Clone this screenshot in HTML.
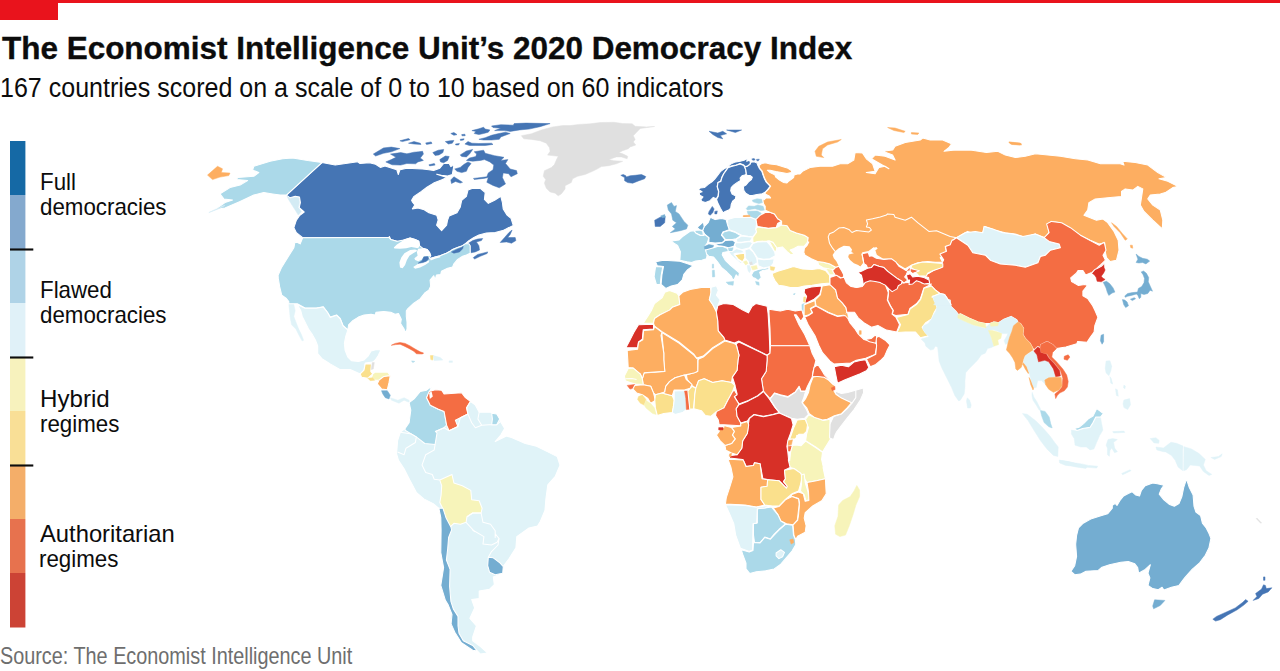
<!DOCTYPE html>
<html><head><meta charset="utf-8"><title>Democracy Index 2020</title>
<style>
html,body{margin:0;padding:0;background:#fff;}
body{width:1280px;height:671px;position:relative;overflow:hidden;font-family:"Liberation Sans",sans-serif;}
.t{position:absolute;white-space:nowrap;transform-origin:0 0;line-height:1;}
#title{left:2px;top:32px;font-size:32px;font-weight:bold;color:#0c0c0c;transform:scaleX(0.983);-webkit-text-stroke:0.35px #0c0c0c;}
#sub{left:0px;top:75px;font-size:27px;color:#0c0c0c;transform:scaleX(0.927);}
#src{left:0px;top:644px;font-size:24px;color:#6e6e6e;transform:scaleX(0.826);}
.lg{font-size:24px;color:#0c0c0c;transform:scaleX(0.93);}
svg{position:absolute;left:0;top:0;}
</style></head><body>
<svg width="1280" height="671" viewBox="0 0 1280 671">
<rect x="0" y="0" width="1280" height="3" fill="#e9131c"/>
<rect x="0" y="0" width="58" height="20" fill="#e9131c"/>
<g>
<rect x="10" y="141" width="15.4" height="54" fill="#1569a5"/>
<rect x="10" y="195" width="15.4" height="54" fill="#84a9ce"/>
<rect x="10" y="249" width="15.4" height="54" fill="#afd3e7"/>
<rect x="10" y="303" width="15.4" height="54" fill="#e0f1f8"/>
<rect x="10" y="357" width="15.4" height="54" fill="#f7f2bd"/>
<rect x="10" y="411" width="15.4" height="54" fill="#f9df96"/>
<rect x="10" y="465" width="15.4" height="54" fill="#f4ae69"/>
<rect x="10" y="519" width="15.4" height="54" fill="#e7724e"/>
<rect x="10" y="573" width="15.4" height="54.5" fill="#cc4335"/>



</g>
<rect x="10" y="248.45" width="23.3" height="2.1" fill="#0d0d0d"/>
<rect x="10" y="356.45" width="23.3" height="2.1" fill="#0d0d0d"/>
<rect x="10" y="464.45" width="23.3" height="2.1" fill="#0d0d0d"/>
<g stroke="#fff" stroke-width="1.05" stroke-linejoin="round">
<polygon points="321.9,162.6 335.2,165.1 357.7,161.8 360.0,163.5 369.4,162.7 375.6,164.3 380.3,167.4 385.0,165.9 396.8,169.8 398.3,174.5 399.9,169.8 406.9,168.2 422.6,169.0 428.9,169.8 433.6,170.6 439.8,168.2 443.7,163.5 449.2,163.5 450.8,166.6 453.9,165.1 453.1,169.8 452.3,174.5 447.6,176.0 441.4,175.3 436.7,174.2 446.9,177.6 441.4,179.9 433.6,183.1 427.3,187.0 421.0,191.7 414.0,196.4 411.6,200.3 412.4,201.9 414.8,205.0 412.4,208.9 417.9,208.1 424.2,209.7 428.9,212.8 436.7,215.2 438.2,220.0 436.6,225.2 441.6,230.7 446.6,225.2 447.6,220.0 449.2,215.9 457.0,212.8 460.2,207.3 461.7,200.3 466.4,196.4 468.0,190.1 472.7,188.2 480.5,188.6 485.2,192.5 484.4,199.5 488.3,203.4 494.6,200.3 500.8,196.4 502.4,202.6 503.2,208.9 507.1,215.2 511.0,218.3 513.3,225.6 507.7,228.1 502.7,230.6 495.2,232.5 486.4,233.1 478.9,235.0 473.9,237.5 468.9,240.6 465.1,243.8 462.6,245.7 457.6,247.5 452.6,249.4 450.1,251.3 446.4,253.2 440.1,255.7 435.1,256.9 430.1,258.8 428.8,258.8 427.6,256.5 430.7,255.7 429.5,252.5 427.0,249.4 422.6,248.2 418.2,248.8 419.5,245.7 418.8,241.3 415.1,239.4 410.1,238.1 403.8,240.0 400.0,242.5 396.9,241.3 390.7,239.4 389.4,236.5 388.8,237.5 370.0,237.5 302.7,237.7 296.4,232.7 293.9,227.7 296.4,220.2 299.5,215.7 304.2,212.0 299.2,207.6 300.4,202.6 299.5,197.0 295.2,196.3 290.1,197.8 286.4,195.1" fill="#4575b4"/>
<polygon points="467.7,243.8 472.7,240.6 477.7,239.0 482.7,238.5 481.4,240.6 476.4,241.9 478.9,245.7 479.5,250.0 475.2,251.9 470.8,252.8 470.2,245.7" fill="#4575b4" stroke="#4575b4" stroke-width="0.5"/>
<polygon points="473.3,257.6 477.7,254.4 482.7,253.2 487.7,251.9 487.1,253.5 480.2,256.3 474.5,259.1" fill="#4575b4" stroke="#4575b4" stroke-width="0.5"/>
<polygon points="500.2,242.5 504.6,237.5 509.0,232.5 512.1,230.0 510.2,234.4 507.7,237.5 515.2,237.5 515.9,240.6 511.5,243.2 506.5,241.9" fill="#4575b4" stroke="#4575b4" stroke-width="0.5"/>
<polygon points="373.3,154.1 383.5,147.9 391.3,147.1 399.9,148.6 391.3,151.8 383.5,153.3 375.6,156.0" fill="#4575b4" stroke="#4575b4" stroke-width="0.5"/>
<polygon points="385.8,161.9 391.3,159.6 396.0,157.3 390.5,154.1 400.7,152.6 406.9,153.8 414.0,152.2 418.7,151.8 422.6,151.3 423.4,154.1 420.3,158.0 423.4,160.4 417.9,161.9 415.6,163.8 406.9,163.5 400.7,165.1 392.1,164.8" fill="#4575b4" stroke="#4575b4" stroke-width="0.5"/>
<polygon points="399.9,140.8 408.5,138.5 410.1,139.7 402.3,141.6" fill="#4575b4" stroke="#4575b4" stroke-width="0.5"/>
<polygon points="408.5,143.2 414.0,141.6 420.3,143.2 421.0,144.4 414.0,144.0" fill="#4575b4" stroke="#4575b4" stroke-width="0.5"/>
<polygon points="425.7,142.9 431.2,141.9 432.0,143.5 426.5,144.4" fill="#4575b4" stroke="#4575b4" stroke-width="0.5"/>
<polygon points="432.8,152.6 438.2,150.2 443.7,149.4 442.9,152.6 439.0,154.9 435.1,155.4" fill="#4575b4" stroke="#4575b4" stroke-width="0.5"/>
<polygon points="439.8,159.6 445.3,156.0 449.2,156.5 447.6,160.4 443.7,162.7 440.6,161.9" fill="#4575b4" stroke="#4575b4" stroke-width="0.5"/>
<polygon points="445.3,141.6 450.0,140.8 453.9,140.4 452.3,143.2 448.4,144.0" fill="#4575b4" stroke="#4575b4" stroke-width="0.5"/>
<polygon points="455.5,144.0 459.4,143.5 458.6,145.0 455.8,145.0" fill="#4575b4" stroke="#4575b4" stroke-width="0.5"/>
<polygon points="450.8,133.5 453.9,132.5 457.0,134.6 453.9,135.3" fill="#4575b4" stroke="#4575b4" stroke-width="0.5"/>
<polygon points="461.7,134.6 464.9,134.2 465.2,135.7 462.0,135.8" fill="#4575b4" stroke="#4575b4" stroke-width="0.5"/>
<polygon points="460.2,139.3 464.1,138.8 463.6,140.0 460.5,140.4" fill="#4575b4" stroke="#4575b4" stroke-width="0.5"/>
<polygon points="464.9,144.0 468.0,141.6 471.9,143.2 478.9,143.5 491.5,143.2 493.0,144.4 485.2,145.5 475.8,145.5 469.5,145.5" fill="#4575b4" stroke="#4575b4" stroke-width="0.5"/>
<polygon points="471.9,130.6 478.9,128.8 483.6,127.2 485.2,129.1 489.9,129.9 488.3,132.2 483.6,133.5 478.9,134.6 474.2,133.5 475.8,131.4" fill="#4575b4" stroke="#4575b4" stroke-width="0.5"/>
<polygon points="478.9,139.3 485.2,137.7 491.5,135.3 497.7,133.8 505.5,132.2 510.2,133.5 500.8,136.9 499.3,139.3 491.5,140.0 483.6,140.0" fill="#4575b4" stroke="#4575b4" stroke-width="0.5"/>
<polygon points="491.5,126.0 500.8,124.7 513.4,125.2 514.1,123.6 525.9,123.1 550.1,123.6 540.0,126.7 529.0,129.1 519.6,129.9 510.2,131.4 504.0,130.6 494.6,130.6 500.8,128.3 493.0,127.5" fill="#4575b4" stroke="#4575b4" stroke-width="0.5"/>
<polygon points="460.2,154.9 466.4,151.0 472.7,149.4 469.5,154.1 466.4,156.9 461.7,156.5" fill="#4575b4" stroke="#4575b4" stroke-width="0.5"/>
<polygon points="474.2,151.8 483.6,150.2 485.2,153.3 494.6,155.7 504.0,157.3 500.8,160.4 507.9,159.6 505.5,163.5 510.2,169.0 516.5,170.6 517.3,173.7 511.0,176.8 508.7,173.7 503.2,172.9 502.4,177.6 505.5,183.9 499.3,187.8 493.0,185.4 486.8,182.3 488.3,177.6 483.6,178.4 474.2,179.5 473.5,178.4 486.8,176.8 488.3,172.9 493.0,169.8 493.8,165.1 489.9,161.9 484.4,159.6 480.5,160.4 472.7,161.2 466.4,160.4 469.5,158.0 475.8,156.5 476.6,154.1" fill="#4575b4" stroke="#4575b4" stroke-width="0.5"/>
<polygon points="454.7,169.0 460.2,167.4 464.1,164.3 468.0,161.9 471.1,163.5 468.0,167.4 466.4,171.3 461.7,172.6 457.0,171.3" fill="#4575b4" stroke="#4575b4" stroke-width="0.5"/>
<polygon points="450.8,179.9 453.9,176.8 457.8,179.2 462.5,182.3 460.2,183.1 455.5,181.5 451.5,183.5" fill="#4575b4" stroke="#4575b4" stroke-width="0.5"/>
<polygon points="428.9,164.8 434.3,163.5 435.1,165.1 429.6,165.9" fill="#4575b4" stroke="#4575b4" stroke-width="0.5"/>
<polygon points="321.9,162.6 307.7,160.6 292.6,158.1 282.6,158.8 270.1,161.3 253.8,166.3 252.6,170.1 258.8,172.6 253.8,176.3 237.6,177.6 236.3,179.6 247.6,180.6 240.1,185.1 230.0,187.6 220.0,193.9 223.8,198.9 232.5,200.1 225.0,202.6 215.0,209.6 225.0,208.1 240.1,201.4 253.8,195.1 263.8,192.6 272.6,193.9 280.1,195.1 286.4,195.1" fill="#abd9e9"/>
<polygon points="287.0,196.1 290.1,198.6 295.2,197.3 298.7,197.8 299.4,202.6 298.2,207.6 301.4,211.6 298.3,215.1 295.2,210.1 292.0,205.1 288.9,200.1" fill="#d3ebf4" stroke="#d3ebf4" stroke-width="0.5"/>
<polygon points="207.5,175.1 217.5,166.3 222.5,168.8 221.3,172.6 230.0,173.1 228.8,175.6 220.0,177.1 212.5,179.6" fill="#fdae61" stroke="#fdae61" stroke-width="0.5"/>
<polygon points="302.7,237.7 370.0,237.5 388.8,237.5 390.7,239.4 396.9,241.3 403.8,240.0 410.1,238.1 415.1,239.4 418.8,241.3 419.5,245.7 422.6,248.2 427.0,249.4 429.5,252.5 430.7,255.7 428.8,258.8 435.1,256.9 440.1,255.7 446.4,253.2 450.1,251.3 452.6,249.4 457.6,247.5 462.6,245.7 465.1,243.8 468.9,243.8 470.2,245.7 470.2,253.2 466.4,255.0 462.6,256.3 457.6,259.4 453.9,263.8 452.6,266.9 447.6,268.2 441.4,271.3 440.7,274.5 436.4,275.1 435.1,280.1 433.8,275.7 430.1,280.1 430.7,286.3 428.8,290.1 425.1,292.6 420.1,298.9 413.8,303.2 407.6,309.0 406.3,310.8 406.3,316.4 407.0,322.0 407.0,329.1 405.5,332.6 404.1,329.1 400.6,323.4 401.3,319.2 398.5,313.6 395.0,314.3 390.8,312.2 383.8,311.5 376.0,312.2 375.3,315.0 371.1,314.3 364.1,315.0 358.4,317.1 352.8,320.6 348.6,324.8 347.9,329.8 343.0,325.5 340.2,318.5 336.6,315.0 330.3,317.1 327.5,312.2 323.3,306.8 316.3,308.0 305.0,308.0 297.3,303.8 288.8,303.8 288.8,301.6 286.0,298.1 281.8,295.3 279.7,286.9 278.3,278.4 278.1,275.2 281.4,267.7 287.6,257.7 293.9,247.7 295.1,241.4 300.2,243.9" fill="#abd9e9"/>
<polygon points="393.8,247.5 396.9,244.4 400.0,242.5 403.8,240.0 410.1,238.1 415.1,239.4 418.8,241.3 419.5,245.7 418.2,248.2 411.3,246.9 406.3,248.2 400.0,248.8 394.4,248.5" fill="#fff" stroke="none"/>
<polygon points="400.0,267.6 399.4,262.6 401.3,257.6 404.4,253.2 410.1,250.0 415.1,249.4 417.6,250.7 413.2,253.2 409.4,255.7 406.9,260.1 405.1,265.1 402.6,268.2" fill="#fff" stroke="none"/>
<polygon points="418.2,248.8 422.6,248.2 427.0,249.4 429.5,252.5 430.7,255.7 427.6,256.3 423.8,256.3 422.0,259.4 418.2,261.3 415.1,260.1 414.4,258.2 417.6,255.7 416.9,251.9" fill="#fff" stroke="none"/>
<polygon points="413.2,266.9 418.2,263.8 422.6,262.8 426.3,261.6 429.5,260.1 428.8,262.6 425.1,265.1 420.1,267.6 415.1,268.8" fill="#fff" stroke="none"/>
<polygon points="430.1,258.8 435.1,256.9 440.1,255.7 440.4,257.3 435.1,258.8 430.7,260.6" fill="#fff" stroke="none"/>
<polygon points="418.2,263.2 422.0,260.7 423.8,256.9 427.6,256.5 428.8,258.8 426.3,261.3 422.6,262.6" fill="#4575b4" stroke="#4575b4" stroke-width="0.5"/>
<polygon points="451.4,251.9 456.4,249.4 461.4,247.5 463.3,246.3 462.6,248.8 459.5,251.9 453.9,253.2" fill="#4575b4" stroke="#4575b4" stroke-width="0.5"/>
<polygon points="288.8,304.5 293.8,304.5 295.2,310.8 293.8,316.4 295.9,322.0 298.7,329.1 301.5,334.7 303.6,340.3 302.2,341.0 299.4,336.1 295.9,329.1 291.6,324.8 290.2,317.8 289.5,310.8" fill="#e0f3f8" stroke="#e0f3f8" stroke-width="0.5"/>
<polygon points="297.3,304.5 305.0,308.3 316.3,308.3 323.3,307.1 327.5,312.5 330.3,317.4 336.6,315.3 340.2,318.8 343.0,325.8 347.9,330.0 345.8,336.1 344.4,343.1 345.1,350.2 347.9,357.2 351.4,360.7 358.4,361.4 364.1,360.0 368.3,355.8 371.1,350.9 376.7,349.5 380.9,349.9 378.1,355.8 375.3,360.0 372.8,362.1 365.2,363.1 364.0,370.1 360.2,373.9 350.2,369.6 340.2,369.6 330.2,363.9 327.5,362.1 321.9,358.6 317.7,353.7 317.7,345.9 315.5,340.3 312.0,334.0 308.5,329.1 305.0,322.0 302.2,316.4 300.8,310.8" fill="#e0f3f8"/>
<polygon points="365.2,363.9 371.5,363.9 370.8,371.4 372.8,373.9 367.8,378.2 361.5,377.2 360.2,373.9 364.0,370.1" fill="#fae08c"/>
<polygon points="372.3,362.6 374.3,362.6 373.3,368.9 371.3,369.6" fill="#e0e0e0" stroke="#e0e0e0" stroke-width="0.5"/>
<polygon points="372.8,373.9 375.3,372.1 387.8,372.1 390.3,375.7 384.0,376.4 379.0,380.2 375.3,380.2 371.5,377.7" fill="#f7f4ba"/>
<polygon points="367.8,378.2 372.8,377.7 374.8,380.2 370.3,380.7" fill="#fae08c" stroke="#fae08c" stroke-width="0.5"/>
<polygon points="379.0,380.2 384.0,376.4 390.3,375.7 389.0,382.7 387.3,389.7 381.5,388.9 377.3,383.9" fill="#fdae61"/>
<polygon points="381.5,390.7 387.3,390.7 390.3,395.2 389.0,398.9 385.3,397.7 382.8,393.9" fill="#74add1" stroke="#74add1" stroke-width="0.5"/>
<polygon points="390.3,397.7 397.8,400.2 404.1,397.7 409.1,400.2 409.8,402.7 404.1,400.2 399.0,403.2 391.5,400.2" fill="#e0f3f8" stroke="#e0f3f8" stroke-width="0.5"/>
<polygon points="391.3,345.3 395.1,343.4 400.1,342.5 405.1,343.4 410.1,345.9 415.1,349.0 420.1,351.8 423.6,353.0 422.6,354.0 416.4,353.8 413.9,351.3 408.9,348.4 403.9,345.9 400.1,344.3 395.7,344.6" fill="#f46d43" stroke="#f46d43" stroke-width="0.5"/>
<polygon points="430.3,355.6 433.4,355.6 432.8,360.1 430.8,359.6" fill="#fae08c" stroke="#fae08c" stroke-width="0.5"/>
<polygon points="433.4,355.6 440.4,357.6 442.9,360.1 434.1,360.6" fill="#e0f3f8" stroke="#e0f3f8" stroke-width="0.5"/>
<polygon points="411.6,360.9 414.8,361.4 412.8,362.6" fill="#abd9e9" stroke="#abd9e9" stroke-width="0.5"/>
<polygon points="449.1,360.9 452.4,360.9 452.4,362.4 449.1,362.4" fill="#e0f3f8" stroke="#e0f3f8" stroke-width="0.5"/>
<polygon points="426.6,390.2 431.6,386.4 429.1,391.4 435.4,389.7 441.6,390.2 444.1,393.9 461.6,392.7 465.4,397.7 470.4,401.4 475.4,405.2 479.2,412.2 490.4,412.2 496.7,414.0 499.7,419.0 500.5,421.5 504.6,428.5 500.8,435.0 495.2,441.6 506.5,436.0 512.1,437.8 525.3,443.5 536.5,446.3 547.8,451.9 557.2,456.6 560.0,465.1 555.3,476.3 547.8,484.8 545.9,498.9 545.0,510.1 540.3,521.4 537.5,526.1 529.0,528.0 519.6,534.6 516.8,536.6 515.9,547.8 509.3,558.2 503.7,565.7 502.7,573.2 493.3,576.9 494.3,584.5 489.6,589.2 479.2,591.0 479.2,598.5 471.7,599.5 474.6,607.9 469.9,618.3 476.4,625.8 472.7,637.0 472.7,640.8 480.2,646.4 487.7,653.0 480.2,653.9 472.7,646.4 461.4,640.8 455.8,633.3 452.0,625.8 450.1,618.3 452.0,608.9 449.2,602.3 445.4,600.4 442.6,586.3 443.6,567.6 440.8,552.5 441.1,530.0 440.8,517.7 438.9,508.3 433.2,503.6 423.8,498.9 416.3,492.3 409.8,480.1 404.1,468.8 398.5,460.4 396.6,453.8 397.6,440.7 400.4,432.2 405.1,428.5 409.1,422.7 410.8,410.2 409.1,402.7 414.1,398.9 420.3,391.4" fill="#e0f3f8"/>
<polygon points="426.6,390.2 431.6,386.4 429.1,392.7 426.6,397.7 430.3,405.2 437.9,409.0 444.1,411.5 446.6,425.2 444.1,427.7 435.4,431.5 437.0,433.1 435.1,444.4 424.8,443.5 416.3,436.9 411.6,434.1 405.1,430.3 405.1,428.5 409.1,422.7 410.8,410.2 409.1,402.7 414.1,398.9 420.3,391.4" fill="#abd9e9"/>
<polygon points="426.6,397.7 429.1,391.4 435.4,389.7 441.6,390.2 444.1,393.9 461.6,392.7 465.4,397.7 470.4,401.4 466.6,407.7 467.9,414.0 460.4,417.7 455.4,420.2 457.9,426.5 449.1,430.7 446.6,425.2 444.1,411.5 437.9,409.0 430.3,405.2" fill="#f46d43"/>
<polygon points="429.1,392.7 431.6,391.4 432.8,396.4 429.8,398.9" fill="#fff" stroke="none"/>
<polyline points="470.4,401.4 466.6,407.7 467.9,414.0 471.7,422.7 475.4,427.7 481.7,425.2 489.2,424.7 496.7,424.7 500.5,421.5" fill="none"/>
<polyline points="479.2,412.2 477.9,419.0 481.7,425.2" fill="none"/>
<polygon points="491.7,413.2 496.7,414.0 499.7,419.0 496.7,424.7 491.7,424.7 492.4,419.0" fill="#abd9e9"/>
<polyline points="435.4,431.5 444.1,427.7 449.1,430.7 457.9,426.5 460.4,417.7 467.9,414.0" fill="none"/>
<polyline points="397.6,451.9 404.1,454.7 406.0,448.2 415.4,442.5 416.3,436.9 411.6,434.1 400.4,432.2" fill="none"/>
<polyline points="435.1,444.4 434.2,450.0 425.7,454.7 422.0,465.1 425.7,472.6 432.3,474.5 434.2,479.2 439.8,480.1" fill="none"/>
<polygon points="439.8,480.1 452.0,474.5 453.9,482.9 462.3,485.7 470.8,490.4 471.7,499.8 479.2,500.8 482.1,508.3 481.1,513.0 472.7,513.0 467.0,516.7 466.1,522.3 460.5,524.2 453.9,523.3 450.1,527.0 445.4,517.7 442.6,508.3 439.8,502.6 441.1,495.1 441.7,485.7" fill="#f7f4ba"/>
<polygon points="438.9,508.3 443.0,508.3 446.0,517.7 450.9,527.0 451.6,530.0 448.6,537.5 447.7,548.8 446.4,560.0 450.1,569.4 449.6,586.3 450.9,601.4 453.3,608.9 458.0,616.4 458.0,625.8 459.0,633.3 463.3,640.8 472.7,645.5 477.4,651.1 472.7,650.2 461.4,642.7 454.8,632.3 451.1,623.9 452.0,614.5 448.3,605.1 445.4,600.4 440.8,585.4 443.6,567.6 440.8,552.5 441.1,530.0 440.8,517.7" fill="#74add1"/>
<polyline points="467.0,516.7 472.7,513.0 481.1,513.0 483.0,522.3 490.5,524.2 495.2,530.8 495.2,537.4 495.2,533.8 499.0,538.5 497.1,542.2 491.5,545.0 483.0,544.1 483.9,536.6 472.7,530.0 474.6,531.7 466.1,522.3" fill="none"/>
<polyline points="499.0,538.5 498.0,545.0 491.5,551.6 488.3,557.2" fill="none"/>
<polygon points="488.3,557.2 493.3,557.8 499.9,562.9 503.3,566.6 502.7,573.2 495.2,574.7 489.6,572.3 487.7,565.7" fill="#74add1"/>
<polygon points="218.2,208.2 221.9,206.1 225.0,205.4 220.0,208.2 213.8,210.7 208.8,212.6 213.2,210.4" fill="#d3ebf4" stroke="#d3ebf4" stroke-width="0.5"/>
<polygon points="709.1,131.3 717.8,133.0 722.8,131.3 726.6,133.8 720.3,135.5 722.8,138.8 717.8,137.5 712.8,134.5" fill="#4575b4" stroke="#4575b4" stroke-width="0.5"/>
<polygon points="726.6,130.0 741.6,130.0 735.4,132.5" fill="#4575b4" stroke="#4575b4" stroke-width="0.5"/>
<polygon points="709.1,211.4 712.3,206.4 714.1,208.9 712.8,212.6 710.3,215.2 708.3,213.9" fill="#4575b4" stroke="#4575b4" stroke-width="0.5"/>
<polygon points="714.8,211.4 717.3,210.9 716.8,213.9 714.8,213.9" fill="#4575b4" stroke="#4575b4" stroke-width="0.5"/>
<polygon points="654.7,220.2 660.2,217.2 665.2,216.4 664.7,222.7 660.2,226.4 655.2,226.4" fill="#4575b4" stroke="#4575b4" stroke-width="0.5"/>
<polygon points="667.3,205.1 671.5,202.6 674.0,206.4 676.5,205.6 675.3,211.4 679.0,213.9 684.0,221.4 687.8,225.2 686.5,228.9 680.3,230.7 670.3,232.7 675.3,228.9 672.3,226.4 676.5,222.7 672.8,220.2 671.5,213.9 668.3,210.1" fill="#74add1" stroke="#74add1" stroke-width="0.5"/>
<polygon points="660.7,215.9 664.7,214.6 665.2,217.2 662.2,217.7" fill="#74add1" stroke="#74add1" stroke-width="0.5"/>
<polygon points="746.2,208.7 748.5,205.9 754.2,206.3 757.9,204.9 763.1,206.3 764.5,210.1 760.8,210.6 755.1,208.7 751.4,209.2 747.6,210.1" fill="#abd9e9" stroke="#abd9e9" stroke-width="0.5"/>
<polygon points="747.2,211.3 757.4,211.0 761.3,213.3 758.9,217.2 755.0,218.5 750.3,216.4 748.0,214.1" fill="#abd9e9" stroke="#abd9e9" stroke-width="0.5"/>
<polygon points="743.3,215.6 749.5,215.2 750.3,216.9 743.3,217.2" fill="#fdae61" stroke="#fdae61" stroke-width="0.5"/>
<polygon points="755.8,219.6 759.7,215.6 765.2,212.5 769.9,212.2 774.6,214.1 777.7,218.8 781.6,221.1 777.7,223.5 776.2,227.4 768.3,228.2 757.4,226.6 756.6,223.5" fill="#f46d43"/>
<polygon points="727.6,219.6 735.5,217.2 743.3,217.5 750.3,217.2 755.8,219.6 756.6,223.5 755.8,229.0 756.6,232.1 752.7,236.8 748.0,236.3 741.7,235.2 735.5,232.1 729.2,229.7 727.6,225.0" fill="#e0f3f8"/>
<polygon points="704.2,226.6 708.1,222.7 710.4,217.2 715.1,219.6 721.4,218.5 726.1,219.6 727.6,225.0 729.2,229.7 722.9,232.1 721.4,235.2 725.3,239.9 722.2,242.6 715.1,243.0 708.9,242.3 708.9,237.6 704.9,234.4 702.6,230.5" fill="#74add1"/>
<polygon points="697.1,227.4 703.4,221.9 704.2,226.6 702.6,230.5 699.5,229.7" fill="#74add1"/>
<polygon points="694.0,230.5 699.5,230.0 702.6,231.0 703.4,235.2 700.3,235.2 695.6,232.9" fill="#abd9e9"/>
<polygon points="671.3,241.0 679.1,239.9 682.3,236.8 690.1,231.3 694.0,230.8 695.9,233.2 700.3,235.5 703.4,235.5 704.9,234.7 708.9,237.9 707.3,243.0 704.9,246.2 705.7,250.1 707.3,254.0 706.5,258.7 701.8,260.3 695.6,261.0 691.6,262.6 686.9,261.8 679.9,260.3 680.4,251.6 677.6,245.4 673.6,243.0" fill="#abd9e9"/>
<polygon points="712.3,264.2 713.6,264.2 713.6,268.1 712.3,268.1" fill="#abd9e9" stroke="#abd9e9" stroke-width="0.5"/>
<polygon points="655.6,261.8 663.5,260.3 679.9,261.3 686.9,263.4 693.2,265.7 687.7,269.6 683.8,274.3 682.3,279.8 677.6,284.5 671.3,286.1 665.8,288.4 661.1,284.5 661.9,275.1 663.5,266.5 657.2,265.7" fill="#74add1"/>
<polygon points="655.6,266.5 662.7,267.0 661.1,275.9 660.3,284.5 656.4,284.5 654.1,276.7" fill="#abd9e9"/>
<polygon points="704.2,246.6 708.9,244.6 713.6,245.4 712.8,247.7 707.3,249.8 704.5,248.8" fill="#74add1" stroke="#74add1" stroke-width="0.5"/>
<polygon points="715.1,244.1 722.2,243.0 725.3,240.4 732.3,239.9 735.5,242.3 733.9,246.2 728.4,247.7 722.9,246.2 718.2,245.7" fill="#74add1"/>
<polygon points="721.7,234.7 723.7,232.1 729.2,230.5 735.5,232.6 740.9,235.7 736.2,238.8 732.3,239.4 725.3,239.4" fill="#abd9e9"/>
<polygon points="736.2,239.4 741.4,236.0 748.0,236.8 752.7,237.2 750.3,241.0 741.7,242.3 737.0,241.9" fill="#e0f3f8"/>
<polygon points="735.8,242.6 741.7,242.6 750.3,241.5 752.7,243.0 749.5,247.7 741.7,249.8 736.2,247.7 734.7,245.4" fill="#e0f3f8"/>
<polygon points="727.6,248.5 733.1,247.7 732.3,250.9 728.4,251.3" fill="#abd9e9" stroke="#abd9e9" stroke-width="0.5"/>
<polygon points="728.4,251.6 732.6,251.2 736.2,248.5 741.7,250.1 744.9,252.4 740.2,253.2 736.2,253.2 733.9,254.0 737.8,259.5 743.3,263.4 740.2,263.4 733.9,257.9 730.8,254.8" fill="#e0f3f8"/>
<polygon points="734.7,254.8 740.2,253.7 744.5,253.2 744.9,257.9 742.5,261.8 738.6,259.5" fill="#fae08c"/>
<polygon points="744.9,250.1 749.5,248.5 753.5,252.4 756.6,257.9 757.4,262.6 752.7,265.7 749.5,264.9 748.0,261.0 745.2,258.2 745.2,253.2" fill="#e0f3f8"/>
<polygon points="743.3,261.8 746.4,260.7 748.0,263.4 745.6,264.9" fill="#f7f4ba" stroke="#f7f4ba" stroke-width="0.5"/>
<polygon points="749.5,262.6 751.9,261.8 752.4,264.5 750.2,264.9" fill="#e0e0e0" stroke="#e0e0e0" stroke-width="0.5"/>
<polygon points="747.2,265.4 749.5,265.4 750.8,269.6 749.5,272.8 748.0,270.4" fill="#e0f3f8" stroke="#e0f3f8" stroke-width="0.5"/>
<polygon points="751.1,266.5 756.6,265.4 757.4,268.9 752.7,270.1" fill="#f7f4ba" stroke="#f7f4ba" stroke-width="0.5"/>
<polygon points="750.3,247.7 753.0,243.5 757.4,241.9 766.8,241.5 771.5,246.9 774.6,251.6 775.4,255.6 769.9,258.7 763.6,259.2 757.4,257.9 753.8,252.4" fill="#e0f3f8"/>
<polygon points="769.1,241.0 773.0,242.3 776.9,247.7 776.2,251.6 774.3,250.9 771.8,246.2" fill="#f7f4ba"/>
<polygon points="757.4,258.7 763.6,259.8 770.2,259.2 774.3,258.7 773.3,263.4 770.7,266.5 763.6,268.1 758.2,265.7 757.7,262.6" fill="#e0f3f8"/>
<polygon points="751.4,275.1 753.5,271.2 758.2,269.6 764.4,268.5 769.1,267.6 768.6,269.6 762.8,270.4 759.7,272.3 761.3,277.5 758.2,280.6 755.0,278.2 752.7,277.5" fill="#abd9e9"/>
<polygon points="755.5,281.4 758.9,282.2 759.2,285.3 756.6,284.5" fill="#abd9e9" stroke="#abd9e9" stroke-width="0.5"/>
<polygon points="770.2,266.5 774.9,267.3 773.8,270.4 770.7,270.1" fill="#fae08c" stroke="#fae08c" stroke-width="0.5"/>
<polygon points="772.2,273.6 777.7,271.2 785.5,268.9 793.4,266.5 802.8,268.9 812.1,269.6 819.2,268.5 825.4,270.4 829.4,275.1 830.1,282.9 821.5,283.7 812.1,285.3 804.3,286.1 798.1,287.6 790.2,287.6 784.0,286.1 778.5,285.3 774.9,280.6 773.0,276.7" fill="#fae08c"/>
<polygon points="756.6,232.1 755.8,229.0 757.4,226.9 768.3,228.5 776.2,227.7 781.6,225.0 787.1,225.8 790.2,230.5 796.5,232.9 804.3,235.2 808.2,237.6 807.4,242.3 804.3,246.2 798.1,246.2 794.1,248.5 790.2,250.1 794.1,254.0 791.0,254.8 787.1,251.6 782.4,246.9 777.7,247.7 776.2,251.6 776.9,247.7 773.0,242.3 769.1,240.7 766.8,241.0 757.4,241.5 753.0,243.0 752.7,237.6" fill="#f7f4ba"/>
<polygon points="705.7,250.1 713.6,247.7 718.2,246.2 722.9,246.6 727.6,248.5 728.4,251.6 722.9,252.4 722.2,254.8 725.3,260.3 730.8,265.7 735.5,269.6 739.4,272.8 738.6,277.5 736.2,274.8 734.7,278.2 733.1,280.6 731.5,276.7 726.9,272.0 721.4,267.3 717.5,261.8 713.6,257.1 708.9,256.3 706.5,254.0" fill="#abd9e9"/>
<polygon points="712.3,270.4 714.3,270.1 714.8,276.7 712.5,277.0" fill="#abd9e9" stroke="#abd9e9" stroke-width="0.5"/>
<polygon points="726.1,282.2 733.6,281.4 733.1,285.3 728.4,284.5" fill="#abd9e9" stroke="#abd9e9" stroke-width="0.5"/>
<polygon points="793.4,293.9 795.2,293.4 794.1,295.0" fill="#abd9e9" stroke="#abd9e9" stroke-width="0.5"/>
<polygon points="817.6,261.6 823.2,262.3 830.1,264.1 835.7,267.3 835.1,270.1 829.5,269.1 823.2,267.8 818.8,265.1" fill="#f7f4ba"/>
<polygon points="826.9,269.1 831.6,270.1 833.6,274.1 830.1,274.1" fill="#f7f4ba" stroke="#f7f4ba" stroke-width="0.5"/>
<polygon points="832.6,270.7 835.7,267.3 838.8,266.3 841.3,270.1 843.8,275.1 842.6,278.8 838.2,276.3 835.1,275.1" fill="#f46d43"/>
<polygon points="521.3,135.7 531.3,133.8 541.3,130.0 552.6,126.9 562.6,125.6 570.1,125.6 578.9,124.4 590.1,123.8 600.1,122.5 613.9,122.3 622.7,123.5 632.1,123.8 635.2,126.3 646.5,126.9 654.6,126.5 640.2,128.5 636.4,132.5 633.3,135.7 635.2,139.4 633.3,141.9 635.8,145.0 630.2,146.9 628.3,148.8 622.7,150.7 618.9,152.6 622.7,153.8 627.7,156.3 627.1,158.8 621.4,156.9 616.4,156.9 608.9,159.4 613.9,160.7 622.7,161.3 616.4,163.8 608.9,165.7 601.4,166.6 597.6,168.8 592.6,171.3 585.1,174.5 577.6,176.3 572.6,178.8 571.3,182.6 565.1,185.7 565.1,188.9 561.3,193.9 558.2,195.8 555.1,193.2 550.1,192.0 546.3,188.2 544.4,183.2 545.7,179.5 543.2,176.3 544.4,170.7 551.3,167.6 554.4,164.5 556.3,160.1 558.2,156.3 547.6,155.1 550.1,151.3 549.4,147.6 546.3,143.2 540.0,140.7 531.3,139.4 523.8,138.8" fill="#e0e0e0" stroke="#e0e0e0" stroke-width="0.5"/>
<polygon points="620.8,175.3 623.3,174.5 625.8,175.7 626.4,177.0 630.2,175.7 635.2,175.3 641.5,174.5 645.8,176.6 644.6,178.8 639.0,180.7 632.7,183.2 627.7,182.6 624.6,180.7 624.6,177.6" fill="#4575b4" stroke="#4575b4" stroke-width="0.5"/>
<polygon points="698.3,189.4 700.2,188.0 704.4,187.6 708.2,184.3 711.9,181.9 714.7,179.1 717.6,175.4 720.4,171.6 724.1,168.8 726.9,167.4 730.7,164.1 734.5,162.2 740.1,161.3 744.8,159.9 747.6,158.5 746.7,161.3 749.5,160.3 750.4,162.2 750.0,164.1 747.6,166.0 744.8,166.4 743.8,165.0 740.1,163.6 736.3,165.0 731.2,166.0 727.9,167.4 726.0,170.2 723.7,173.5 721.8,177.2 720.8,181.0 718.0,182.4 717.1,186.6 718.5,191.3 718.0,196.0 716.2,198.8 713.3,197.4 710.0,200.7 705.4,202.6 702.1,201.6 700.7,199.8 703.0,196.9 699.7,195.1 699.2,192.7 702.1,191.8" fill="#4575b4"/>
<polygon points="751.8,158.9 754.2,158.5 755.1,159.9 752.8,160.3" fill="#4575b4" stroke="#4575b4" stroke-width="0.5"/>
<polygon points="756.5,159.4 759.3,159.2 758.4,160.8 757.0,160.8" fill="#4575b4" stroke="#4575b4" stroke-width="0.5"/>
<polygon points="718.0,182.4 720.8,181.5 722.0,177.4 723.8,173.7 726.2,170.4 728.1,167.8 731.4,166.4 736.3,165.3 740.1,164.1 743.8,165.5 744.8,167.4 745.7,170.2 746.2,173.9 744.8,174.9 742.0,175.8 740.1,178.2 740.6,180.5 737.3,182.4 733.5,185.2 731.2,187.6 730.7,190.8 732.1,194.1 735.9,196.0 735.4,198.8 732.6,201.2 731.2,204.5 730.7,208.2 728.8,210.1 725.1,211.5 723.2,213.0 720.4,208.2 717.6,202.6 716.6,199.3 718.3,196.2 718.8,191.3 717.4,186.8" fill="#4575b4"/>
<polygon points="744.8,166.9 747.6,166.2 750.1,164.3 750.9,162.2 754.2,161.7 757.0,163.1 757.9,165.5 759.3,168.3 761.7,171.1 763.1,175.4 764.5,179.1 766.4,182.4 770.1,186.2 767.8,189.4 765.0,192.3 762.2,193.7 757.0,194.6 752.3,195.5 749.5,195.5 745.7,193.2 743.8,190.4 743.4,186.6 746.2,184.7 748.5,181.9 751.4,179.6 752.3,177.2 750.0,175.4 747.1,175.4 746.4,173.9 745.9,170.2" fill="#4575b4"/>
<polygon points="752.3,200.2 757.0,198.8 761.7,199.3 762.6,202.6 758.9,203.5 755.1,202.6 752.8,201.6" fill="#abd9e9" stroke="#abd9e9" stroke-width="0.5"/>
<polygon points="758.9,165.5 761.7,163.6 765.4,162.7 770.1,164.1 776.7,164.8 782.3,166.4 788.0,168.3 791.7,170.7 791.3,172.5 787.0,173.5 781.4,172.5 775.8,171.6 770.1,170.2 767.3,170.2 770.1,172.5 774.8,174.9 775.8,177.2 779.5,180.0 783.3,182.4 787.0,182.9 788.9,181.0 791.7,179.1 793.6,177.7 794.1,174.9 797.4,173.9 800.0,173.9 802.5,171.3 810.0,167.6 820.0,166.3 832.5,166.3 840.1,163.8 847.6,163.8 853.8,160.1 855.1,152.6 862.6,153.1 866.3,158.8 872.6,163.8 875.1,171.3 866.3,172.6 875.1,173.8 878.9,167.6 885.1,166.3 888.9,168.8 880.1,163.8 871.4,158.8 875.1,155.1 885.1,156.3 895.1,160.1 892.6,155.1 882.6,151.3 892.6,150.1 895.1,146.3 905.2,142.5 920.2,140.0 922.7,138.0 930.2,140.0 942.7,140.0 951.5,143.8 949.0,147.5 944.0,151.3 955.2,150.1 970.3,150.1 986.5,152.6 997.8,151.3 1005.3,155.1 1015.3,157.6 1025.3,156.3 1035.4,153.8 1047.9,155.1 1060.4,156.3 1075.4,158.8 1087.9,160.1 1100.5,163.8 1120.0,163.8 1120.2,163.8 1124.0,165.1 1122.7,161.3 1135.3,162.6 1147.8,165.1 1157.8,172.6 1166.6,177.6 1159.0,178.8 1167.8,181.3 1177.8,186.4 1172.8,187.6 1165.3,192.6 1160.3,193.9 1150.3,195.1 1147.8,198.9 1152.8,205.1 1160.3,210.1 1162.8,220.2 1162.3,228.9 1152.8,220.2 1144.0,211.4 1140.3,205.1 1141.5,197.6 1142.8,188.9 1137.8,186.4 1132.8,190.1 1125.2,188.9 1121.5,191.4 1121.5,196.4 1110.2,197.6 1095.2,198.9 1088.9,202.6 1087.7,210.1 1083.9,215.2 1090.2,217.7 1096.5,220.2 1102.7,218.9 1107.7,222.7 1114.0,231.4 1118.2,240.2 1119.0,250.2 1116.5,260.2 1110.2,261.5 1106.5,257.7 1105.2,251.5 1104.7,242.7 1099.0,243.9 1090.2,240.2 1080.2,235.2 1070.2,228.9 1060.2,222.7 1051.4,221.4 1047.6,223.9 1048.9,232.7 1045.1,237.7 1035.1,233.9 1025.1,237.2 1015.1,233.9 1005.1,232.7 995.1,230.2 985.0,226.4 982.5,232.7 975.0,233.9 967.5,231.4 965.2,232.7 956.5,237.7 952.7,240.2 950.2,245.2 945.2,246.4 946.5,252.7 940.2,257.7 942.7,262.2 935.2,262.2 927.7,261.5 917.7,262.7 911.4,265.2 905.2,269.0 898.9,265.2 891.4,259.0 882.6,259.0 876.4,255.2 873.9,247.7 868.9,251.5 862.6,252.7 863.8,262.7 860.8,267.0 850.1,265.1 838.8,266.3 835.7,267.3 830.1,264.1 823.2,262.3 817.6,261.6 811.3,258.8 805.0,255.1 803.8,252.6 804.4,248.2 806.9,245.7 808.8,241.9 807.4,242.3 808.2,237.6 804.3,235.2 796.5,232.9 790.2,230.5 787.1,225.8 781.6,225.0 781.6,221.1 777.7,218.8 774.6,214.1 769.9,212.2 765.2,210.2 765.2,206.3 763.6,203.9 762.8,200.0 764.0,199.8 765.9,197.9 770.6,197.9 769.2,196.0 765.0,194.1 765.4,192.3 768.3,189.4 770.6,186.2 766.9,182.4 765.0,179.1 763.6,175.4 762.2,171.1 759.8,168.3" fill="#fdae61"/>
<polygon points="815.0,151.3 818.8,146.3 827.5,142.0 841.3,139.5 837.6,142.0 827.5,145.0 822.5,148.8 821.3,155.1 823.8,157.6 816.3,156.3" fill="#fdae61" stroke="#fdae61" stroke-width="0.5"/>
<polygon points="887.6,127.5 895.1,128.0 905.2,131.3 903.9,132.5 893.9,130.5" fill="#fdae61" stroke="#fdae61" stroke-width="0.5"/>
<polygon points="911.4,132.5 918.9,133.0 917.7,134.5 911.4,134.0" fill="#fdae61" stroke="#fdae61" stroke-width="0.5"/>
<polygon points="1009.1,142.0 1020.3,143.0 1021.6,145.0 1011.6,144.5" fill="#fdae61" stroke="#fdae61" stroke-width="0.5"/>
<polygon points="1008.8,142.0 1021.3,143.8 1020.1,145.0 1010.1,143.8" fill="#fdae61" stroke="#fdae61" stroke-width="0.5"/>
<polygon points="1111.5,222.7 1116.5,226.4 1122.7,233.9 1127.3,238.9 1125.2,240.2 1120.2,232.7 1114.0,226.4" fill="#fdae61" stroke="#fdae61" stroke-width="0.5"/>
<polygon points="1130.3,245.2 1132.3,245.2 1132.8,248.2 1130.8,247.7" fill="#fdae61" stroke="#fdae61" stroke-width="0.5"/>
<polygon points="956.5,237.7 965.2,232.7 975.3,231.4 982.8,232.7 984.0,226.4 992.8,228.9 1002.8,232.7 1012.8,233.9 1022.8,236.4 1035.4,233.9 1044.1,237.7 1049.1,241.4 1059.1,243.9 1060.4,247.7 1050.4,250.2 1045.4,255.2 1040.4,256.5 1037.9,262.7 1025.3,267.2 1015.3,265.2 1000.3,264.0 990.3,260.2 985.3,255.2 972.8,252.7 967.8,245.2 960.2,240.2" fill="#e0f3f8"/>
<polygon points="952.7,240.2 956.5,237.7 960.2,240.2 967.8,245.2 972.8,252.7 985.3,255.2 990.3,260.2 1000.3,264.0 1015.3,265.2 1025.3,267.2 1037.9,262.7 1040.4,256.5 1045.4,255.2 1050.4,250.2 1060.4,247.7 1059.1,243.9 1049.1,241.4 1044.1,237.7 1049.1,232.7 1046.6,223.9 1051.6,221.4 1061.6,222.7 1070.4,227.7 1080.4,235.2 1091.7,241.4 1099.2,245.2 1104.2,242.2 1106.0,250.2 1103.0,255.2 1105.5,260.2 1104.5,261.0 1100.8,264.7 1092.3,272.3 1085.7,275.1 1082.9,270.4 1078.2,270.4 1076.3,273.2 1070.7,277.9 1071.6,281.6 1078.2,285.4 1084.8,284.5 1087.6,285.4 1082.9,291.0 1082.9,295.7 1087.6,298.5 1092.3,305.1 1095.1,310.8 1097.9,317.3 1094.8,325.8 1094.1,332.1 1090.1,337.6 1087.0,342.3 1077.6,341.5 1076.8,343.8 1065.9,346.9 1056.5,348.5 1052.6,344.6 1047.1,341.5 1040.8,344.6 1040.1,347.7 1037.7,346.6 1033.8,350.1 1032.2,346.9 1029.9,343.0 1025.2,338.3 1022.8,334.4 1023.6,328.2 1020.5,323.5 1018.2,322.7 1016.6,319.6 1011.1,316.4 1003.3,319.6 998.6,322.7 993.9,321.9 990.0,323.5 985.3,323.5 978.2,321.9 968.9,318.0 960.3,313.8 958.7,314.9 956.3,311.7 950.9,306.3 950.1,300.0 948.4,300.1 944.6,294.5 939.9,293.5 935.2,289.8 931.5,286.0 929.6,285.1 928.6,277.6 922.1,275.7 929.6,272.9 934.3,270.0 940.8,267.2 941.8,263.5 943.7,259.7 939.9,254.1 946.5,251.3 945.5,246.6 950.2,244.7 952.1,240.0" fill="#f46d43"/>
<polygon points="1064.3,356.3 1068.2,354.8 1069.8,357.1 1067.4,360.3 1064.0,359.2" fill="#f46d43" stroke="#f46d43" stroke-width="0.5"/>
<polygon points="888.3,286.9 893.0,288.5 897.7,284.7 902.9,282.8 908.5,282.4 913.1,282.4 918.3,279.8 922.1,283.2 929.6,284.3 931.5,284.1 923.9,287.9 922.1,293.5 920.2,299.2 916.4,303.8 909.9,308.5 908.0,314.2 895.8,315.5 892.4,314.2 893.3,310.4 890.5,305.7 887.7,300.1 888.6,293.0" fill="#f46d43"/>
<polygon points="923.9,288.3 931.5,286.0 935.2,289.8 939.9,293.5 935.2,295.4 932.4,296.3 935.2,302.0 937.1,307.6 934.3,312.3 931.5,318.9 925.8,322.6 922.1,327.3 924.9,332.0 928.6,335.8 920.2,337.7 915.5,332.0 905.2,332.0 897.1,332.4 899.5,327.3 900.5,324.5 896.2,317.4 908.0,314.6 910.2,308.9 916.8,304.2 920.6,299.5 922.4,293.9" fill="#fae08c"/>
<polygon points="804.7,288.8 811.3,286.9 821.6,286.0 821.0,289.8 819.7,294.5 814.1,299.2 806.6,302.9 804.7,302.9 806.6,296.3 804.1,292.6" fill="#d73027"/>
<polygon points="803.8,296.9 805.6,296.9 805.1,302.2 803.4,301.6" fill="#fae08c" stroke="#fae08c" stroke-width="0.5"/>
<polygon points="801.9,304.5 804.3,303.5 803.8,310.1 802.4,313.8" fill="#abd9e9" stroke="#abd9e9" stroke-width="0.5"/>
<polygon points="822.2,286.0 830.0,284.7 835.7,289.8 837.6,298.2 842.3,302.9 846.0,307.6 846.9,312.3 845.1,315.1 837.6,316.1 828.2,312.3 816.0,305.7 815.0,300.1 820.3,294.8" fill="#fdae61"/>
<polygon points="804.1,304.8 815.0,300.5 815.4,305.7 810.3,308.5 812.2,312.3 808.5,315.1 804.1,316.1" fill="#fdae61"/>
<polygon points="844.1,314.2 846.9,313.2 847.9,317.9 845.1,317.9" fill="#fdae61" stroke="#fdae61" stroke-width="0.5"/>
<polygon points="830.0,277.6 836.6,275.3 840.4,278.1 844.1,277.2 846.4,282.8 851.1,286.6 856.7,287.5 862.3,286.6 865.7,280.4 871.4,279.4 878.9,281.7 885.4,284.7 888.3,292.6 887.3,300.1 890.1,305.7 893.0,310.4 892.0,314.2 895.8,317.0 899.5,324.5 898.6,327.3 896.7,332.0 886.4,330.1 877.9,325.4 871.4,327.3 863.8,322.6 858.2,317.9 854.5,312.3 849.8,312.3 846.9,312.3 846.0,307.6 842.3,302.9 837.6,298.2 835.7,289.8 830.0,284.7" fill="#f46d43"/>
<polygon points="804.7,317.0 808.5,315.5 812.6,312.7 810.7,308.9 816.0,306.1 828.2,312.7 837.6,316.4 845.1,315.5 847.9,318.5 849.8,322.6 854.5,328.3 858.2,333.9 860.1,335.8 863.8,339.5 875.1,342.3 877.0,345.2 875.1,354.6 865.7,358.3 856.3,360.2 850.7,363.0 833.8,363.9 830.0,361.1 822.5,352.7 818.8,345.2 815.0,335.8 808.5,325.4" fill="#f46d43"/>
<polygon points="859.3,330.7 861.2,330.7 861.2,334.3 859.3,334.3" fill="#fdae61" stroke="#fdae61" stroke-width="0.5"/>
<polygon points="1101.1,335.2 1103.6,334.2 1103.6,341.7 1102.1,344.2 1100.4,340.8" fill="#74add1" stroke="#74add1" stroke-width="0.5"/>
<polygon points="1040.4,410.4 1045.1,411.4 1049.2,417.0 1050.7,423.6 1052.2,427.9 1048.8,426.8 1044.1,422.6 1041.7,416.1" fill="#abd9e9" stroke="#abd9e9" stroke-width="0.5"/>
<polygon points="1071.4,430.1 1077.0,431.1 1082.6,429.2 1090.1,427.9 1093.3,423.0 1096.2,417.4 1100.5,417.4 1101.4,422.6 1102.9,430.1 1099.5,435.8 1096.7,442.3 1093.9,448.9 1090.1,449.9 1086.4,447.0 1080.8,447.0 1075.1,445.2 1074.2,438.6 1071.4,433.9" fill="#e0f3f8" stroke="#e0f3f8" stroke-width="0.5"/>
<polygon points="1074.2,428.6 1078.9,427.3 1083.6,423.6 1088.3,418.9 1093.0,416.1 1096.7,408.5 1100.5,411.4 1103.3,413.6 1100.5,417.0 1095.8,417.0 1093.0,422.6 1090.1,427.3 1082.6,428.6 1077.0,430.5" fill="#abd9e9"/>
<polygon points="1022.5,413.6 1027.2,414.2 1035.7,420.8 1043.2,428.3 1049.8,435.8 1054.5,442.3 1058.2,447.0 1057.8,456.4 1053.5,455.5 1046.9,448.9 1040.4,440.5 1033.8,430.1 1028.2,420.8" fill="#e0f3f8" stroke="#e0f3f8" stroke-width="0.5"/>
<polygon points="1059.2,460.2 1065.7,461.1 1075.1,463.0 1081.7,463.9 1088.3,465.4 1097.7,466.2 1096.7,468.1 1080.8,466.8 1065.7,465.4 1059.7,463.0" fill="#e0f3f8" stroke="#e0f3f8" stroke-width="0.5"/>
<polygon points="1108.0,439.5 1112.7,438.6 1117.4,439.5 1113.6,442.3 1114.6,448.0 1117.4,451.7 1114.6,452.7 1111.7,448.0 1109.9,450.8 1109.3,456.4 1107.4,454.6 1107.4,448.0 1106.1,445.2" fill="#e0f3f8" stroke="#e0f3f8" stroke-width="0.5"/>
<polygon points="1106.1,361.0 1109.9,360.7 1111.7,366.3 1110.8,371.0 1108.9,375.7 1106.1,372.9 1105.2,368.2" fill="#e0f3f8" stroke="#e0f3f8" stroke-width="0.5"/>
<polygon points="1115.5,388.8 1117.4,389.8 1118.3,396.3 1116.4,395.4" fill="#e0f3f8" stroke="#e0f3f8" stroke-width="0.5"/>
<polygon points="1123.9,385.1 1125.4,386.0 1124.9,388.8 1123.6,387.9" fill="#e0f3f8" stroke="#e0f3f8" stroke-width="0.5"/>
<polygon points="1123.9,400.1 1129.6,398.6 1130.5,404.8 1127.7,409.5 1123.9,407.6 1123.0,403.8" fill="#e0f3f8" stroke="#e0f3f8" stroke-width="0.5"/>
<polygon points="1109.9,376.6 1111.2,378.5 1112.7,384.1 1110.8,383.2" fill="#e0f3f8" stroke="#e0f3f8" stroke-width="0.5"/>
<polygon points="1112.7,431.6 1123.9,431.1 1124.9,432.4 1113.6,433.0" fill="#e0f3f8" stroke="#e0f3f8" stroke-width="0.5"/>
<polygon points="1150.2,438.6 1155.9,437.7 1159.2,440.5 1158.7,443.3 1154.0,442.9" fill="#e0f3f8" stroke="#e0f3f8" stroke-width="0.5"/>
<polygon points="1155.9,447.0 1163.4,448.0 1170.9,442.3 1176.5,443.3 1183.1,446.1 1182.7,450.0 1182.7,470.7 1178.0,466.9 1175.2,460.3 1171.5,455.6 1165.8,451.9 1163.4,451.7 1156.8,449.9" fill="#e0f3f8" stroke="#e0f3f8" stroke-width="0.5"/>
<polygon points="1184.0,446.7 1191.5,448.9 1199.1,453.6 1205.3,459.4 1203.4,465.0 1206.2,470.7 1211.8,474.4 1209.0,475.4 1203.4,471.6 1199.6,466.0 1190.2,465.0 1186.5,469.7 1183.7,470.7" fill="#e0f3f8" stroke="#e0f3f8" stroke-width="0.5"/>
<polygon points="1210.9,457.5 1218.4,456.6 1222.2,453.8 1221.2,456.6 1214.6,459.4" fill="#e0f3f8" stroke="#e0f3f8" stroke-width="0.5"/>
<polygon points="1059.7,460.3 1068.2,461.6 1077.6,464.1 1086.9,466.9 1086.0,468.4 1075.7,466.9 1064.4,464.1" fill="#e0f3f8" stroke="#e0f3f8" stroke-width="0.5"/>
<polygon points="1121.7,473.5 1130.1,469.7 1131.1,470.7 1122.6,474.8" fill="#e0f3f8" stroke="#e0f3f8" stroke-width="0.5"/>
<polygon points="834.3,366.8 841.4,365.2 848.4,366.8 853.9,362.1 860.2,360.5 865.6,359.7 868.8,367.6 866.4,370.7 860.2,373.8 853.9,376.2 844.5,380.1 837.5,383.2 835.9,375.4" fill="#d73027"/>
<polygon points="866.4,359.0 875.8,354.3 876.6,345.6 875.8,337.8 878.9,336.3 885.2,340.2 889.9,344.9 886.8,351.1 884.4,356.6 880.5,360.5 875.8,364.4 870.3,366.8" fill="#f46d43"/>
<polygon points="864.9,339.4 871.1,338.6 875.8,334.7 876.6,337.0 875.8,343.3 869.5,341.7" fill="#f46d43"/>
<polygon points="933.6,300.0 950.1,300.0 950.9,306.3 956.3,311.7 958.7,314.9 957.9,318.0 964.2,321.1 973.6,325.0 984.5,328.2 987.6,325.8 990.0,323.5 993.9,321.9 998.6,322.7 1003.3,319.6 1011.1,316.4 1016.6,319.6 1018.2,322.7 1013.5,325.8 1011.9,331.3 1009.5,337.6 1008.0,343.0 1005.6,344.6 1004.1,340.7 1006.4,336.8 1008.0,333.6 1001.7,333.6 997.8,331.3 993.1,329.7 989.2,330.5 990.8,336.0 992.3,340.7 993.9,346.2 990.8,347.7 987.6,348.5 985.3,353.2 981.4,354.8 977.5,360.3 973.6,364.2 968.9,368.9 965.7,372.8 964.9,381.4 964.9,387.6 964.2,393.9 960.3,400.2 958.7,400.9 954.8,395.5 951.6,387.6 947.7,379.8 944.6,373.6 941.5,367.3 939.1,361.0 938.3,353.2 937.6,346.9 935.2,346.2 933.6,349.3 930.5,350.1 925.8,346.2 925.0,343.0 921.1,339.1 929.0,336.8 925.8,333.6 922.7,329.0 923.5,325.8 928.2,323.5 931.3,319.6 933.6,314.9 936.0,311.0 936.8,306.3" fill="#e0f3f8" stroke="#e0f3f8" stroke-width="0.5"/>
<polygon points="967.3,397.8 969.6,400.2 971.2,405.0 970.4,408.0 967.6,408.0 966.5,400.9" fill="#e0f3f8" stroke="#e0f3f8" stroke-width="0.5"/>
<polygon points="957.9,314.9 960.3,313.8 968.9,318.0 978.2,321.9 985.3,323.5 986.1,327.9 973.6,325.0 964.2,321.1 957.9,318.0" fill="#f7f4ba" stroke="#f7f4ba" stroke-width="0.5"/>
<polygon points="990.0,323.5 993.9,321.9 998.6,322.7 997.8,325.8 990.8,326.3" fill="#f7f4ba" stroke="#f7f4ba" stroke-width="0.5"/>
<polygon points="988.4,330.5 992.3,330.5 997.8,332.1 1001.7,333.6 1000.9,338.3 997.8,339.9 998.6,344.6 993.9,346.2 992.3,340.7 990.8,336.0" fill="#f7f4ba" stroke="#f7f4ba" stroke-width="0.5"/>
<polygon points="1018.2,321.9 1020.5,323.5 1023.6,328.2 1022.8,334.4 1025.2,338.3 1029.9,343.0 1032.2,346.9 1033.0,350.1 1028.3,353.2 1025.2,355.6 1023.6,359.5 1021.3,367.3 1017.4,370.4 1015.8,368.9 1015.0,362.6 1012.7,357.9 1009.5,353.2 1006.4,350.1 1008.0,343.0 1009.5,337.6 1011.9,331.3 1013.5,325.8" fill="#fdae61" stroke="#fdae61" stroke-width="0.5"/>
<polygon points="1023.6,362.6 1026.8,366.5 1029.1,372.8 1028.3,373.6 1025.2,368.9 1022.8,364.2" fill="#fdae61" stroke="#fdae61" stroke-width="0.5"/>
<polygon points="1029.1,377.5 1031.5,381.4 1033.8,387.6 1033.0,390.0 1030.7,384.5" fill="#fdae61" stroke="#fdae61" stroke-width="0.5"/>
<polygon points="1025.2,356.0 1029.1,353.2 1033.0,350.9 1036.2,354.0 1037.7,361.8 1044.0,360.3 1047.9,361.8 1052.6,368.9 1054.9,376.7 1048.7,377.5 1045.5,379.8 1044.8,383.7 1041.6,380.6 1037.7,380.6 1036.2,387.6 1033.8,387.6 1031.5,381.4 1029.1,372.8 1026.8,366.5 1023.6,362.6 1023.9,359.5" fill="#e0f3f8" stroke="#e0f3f8" stroke-width="0.5"/>
<polygon points="1032.2,392.3 1033.8,397.0 1036.9,401.7 1038.5,405.0 1040.8,409.5 1039.3,410.3 1036.2,405.0 1033.0,400.2 1031.9,395.5" fill="#e0f3f8" stroke="#e0f3f8" stroke-width="0.5"/>
<polygon points="1033.8,350.9 1037.7,346.9 1040.1,348.5 1040.8,352.4 1046.3,354.0 1048.7,357.9 1054.1,363.4 1059.6,370.4 1060.4,375.9 1055.7,376.7 1053.4,368.9 1048.7,361.8 1044.8,360.3 1038.5,361.8 1036.9,354.8" fill="#d73027" stroke="#d73027" stroke-width="0.5"/>
<polygon points="1040.1,347.7 1040.8,344.6 1047.1,341.5 1052.6,344.6 1056.5,348.5 1052.6,352.4 1051.8,357.1 1056.5,361.8 1062.8,368.9 1066.7,375.1 1068.2,381.4 1067.4,386.9 1064.3,390.8 1059.6,393.1 1057.3,395.5 1055.7,398.6 1054.9,393.9 1058.8,390.8 1062.0,386.9 1062.8,378.2 1060.4,370.4 1054.9,363.4 1049.5,357.9 1047.1,354.0 1041.2,352.4" fill="#f46d43" stroke="#f46d43" stroke-width="0.5"/>
<polygon points="1044.8,380.1 1048.7,377.8 1055.7,377.2 1061.2,377.5 1062.0,386.1 1058.8,390.0 1053.4,392.3 1048.7,389.2 1045.5,384.5" fill="#fdae61" stroke="#fdae61" stroke-width="0.5"/>
<polygon points="862.0,253.8 868.3,252.6 869.5,256.3 872.0,255.7 876.4,258.2 883.9,259.4 891.4,258.8 895.8,261.9 898.9,266.3 903.3,268.8 906.4,270.7 909.0,267.6 912.1,268.2 910.8,270.7 907.7,271.3 906.4,274.5 904.6,277.0 907.7,280.1 903.9,283.2 902.1,281.4 897.7,278.8 892.7,275.1 887.7,271.3 883.9,267.6 878.9,266.3 873.9,264.5 871.4,267.6 867.6,268.2 866.4,265.1 863.9,263.8" fill="#f46d43"/>
<polygon points="857.6,272.6 861.4,271.3 866.4,268.8 867.6,268.2 871.4,267.6 873.9,264.5 878.9,266.3 883.9,267.6 887.7,271.3 892.7,275.1 897.7,278.8 902.1,281.4 901.4,283.9 898.3,285.7 897.1,288.9 892.1,291.6 888.9,288.9 885.2,285.1 880.2,282.6 875.1,281.4 870.1,280.7 865.1,282.6 863.3,285.1 862.6,280.1 861.4,275.1" fill="#d73027"/>
<polygon points="906.4,275.1 910.2,273.8 912.7,277.0 917.7,276.3 924.0,277.6 929.0,280.1 929.6,283.2 924.0,283.9 920.2,282.0 916.5,280.7 912.7,283.9 909.0,284.5 909.6,280.1 907.7,280.1" fill="#d73027"/>
<polygon points="912.1,265.1 917.7,263.2 922.7,261.9 930.2,262.6 940.0,263.2 942.8,263.8 942.8,267.0 940.0,268.2 932.7,270.7 927.7,273.2 926.5,275.7 919.0,276.1 917.1,273.8 912.7,273.2 915.8,272.0 919.0,270.7 914.6,270.1 912.1,268.2 910.8,267.6" fill="#fae08c"/>
<polygon points="832.6,255.1 835.1,251.3 838.8,248.2 843.8,245.7 849.5,246.3 852.0,249.4 851.4,251.9 853.9,253.2 848.9,254.4 848.2,256.9 850.1,260.1 853.9,263.2 858.2,265.1 860.8,267.0 858.9,269.5 857.6,272.0 861.4,275.1 862.6,280.1 863.3,285.1 860.1,287.0 855.1,287.6 850.1,285.7 846.4,282.0 844.5,277.6 844.1,275.1 841.3,270.1 838.8,266.3 836.3,261.3 833.8,258.2" fill="#fff" stroke="none"/>
<polygon points="868.9,252.6 872.6,248.2 876.4,246.9 877.7,248.8 874.5,250.7 873.3,253.2 873.9,256.3 872.0,255.7 869.5,256.3" fill="#fff" stroke="none"/>
<polyline points="835.1,251.3 832.6,248.2 829.5,243.2 828.2,236.9 829.5,233.8 833.8,231.9 838.8,228.1 843.8,227.5 848.9,229.4 852.0,232.5 856.4,230.6 862.6,231.3 868.9,231.9 871.4,230.0 869.5,227.5 866.4,226.9 867.6,223.8 866.4,220.0 872.6,218.8 880.2,216.9 886.4,215.0 887.6,213.9 893.9,214.6 895.1,217.2 905.2,220.2 911.4,217.2 917.7,222.7 928.9,231.4 936.5,230.7 950.2,236.4 956.5,237.7" fill="none"/>
<polyline points="862.0,253.8 863.9,263.8 860.8,267.0" fill="none"/>
<polygon points="910.2,268.6 914.6,269.6 919.2,270.7 915.8,272.3 912.7,273.6 910.2,271.6" fill="#f46d43"/>
<polygon points="1091.9,272.9 1094.7,269.6 1097.6,268.2 1101.3,266.3 1103.7,263.9 1104.1,267.7 1105.1,270.0 1103.7,272.9 1101.3,276.2 1102.7,278.0 1105.1,279.4 1101.3,281.8 1097.1,281.3 1096.2,277.6 1094.7,275.2" fill="#d73027" stroke="#d73027" stroke-width="0.5"/>
<polyline points="1091.9,272.9 1094.7,269.6 1097.6,268.2 1101.3,266.3 1103.7,263.9" fill="none"/>
<polygon points="1103.2,282.3 1106.5,281.3 1109.8,283.7 1113.1,287.9 1114.9,292.1 1112.1,293.1 1108.8,295.4 1107.4,292.6 1106.0,287.9 1104.6,285.1" fill="#74add1" stroke="#74add1" stroke-width="0.5"/>
<polygon points="1136.1,254.1 1138.9,256.4 1142.6,258.3 1147.3,259.2 1149.7,261.1 1145.9,263.9 1142.6,262.5 1138.9,263.0 1136.1,262.5 1137.9,259.2" fill="#74add1" stroke="#74add1" stroke-width="0.5"/>
<polygon points="1141.2,271.9 1143.6,271.0 1146.4,273.3 1148.7,277.6 1148.3,281.8 1150.6,286.9 1152.5,291.2 1150.1,290.2 1147.8,293.5 1144.0,294.5 1140.8,293.5 1140.8,297.3 1139.3,298.7 1137.9,295.4 1136.5,294.0 1131.4,295.4 1127.6,296.3 1125.3,297.3 1124.8,295.9 1127.6,293.5 1132.3,292.6 1137.5,292.1 1138.4,288.4 1141.7,286.5 1144.0,282.7 1144.5,278.5 1143.1,274.7" fill="#74add1" stroke="#74add1" stroke-width="0.5"/>
<polygon points="1130.4,299.2 1134.2,297.7 1135.6,298.7 1132.3,300.6" fill="#74add1" stroke="#74add1" stroke-width="0.5"/>
<polygon points="1122.4,299.6 1124.8,300.1 1127.1,302.0 1128.5,305.7 1125.7,307.6 1123.8,304.8" fill="#74add1" stroke="#74add1" stroke-width="0.5"/>
<polygon points="932.4,296.3 935.2,295.4 939.9,293.5 944.6,294.5 948.4,300.1 951.2,304.8 933.7,304.8 935.6,302.3" fill="#e0f3f8" stroke="#e0f3f8" stroke-width="0.5"/>
<polyline points="931.5,297.3 935.2,295.4 939.9,293.5 944.6,294.5 948.4,300.1 951.2,304.8" fill="none"/>
<polygon points="664.8,292.3 669.5,290.4 677.0,293.2 678.9,296.0 679.8,304.5 672.3,307.3 669.5,310.1 660.1,314.8 654.5,318.5 653.5,323.2 643.2,323.2 646.9,317.6 651.6,310.1 654.5,303.5 662.0,297.9" fill="#f7f4ba"/>
<polygon points="638.5,324.7 653.5,324.2 653.5,328.9 643.2,329.8 642.3,339.2 638.5,342.0 637.6,347.7 625.9,347.7 630.0,340.1 633.8,332.6" fill="#d73027"/>
<polygon points="678.9,296.0 682.6,292.3 690.1,289.4 701.4,287.6 710.4,287.2 711.2,293.2 709.3,299.8 712.7,304.5 716.4,312.0 717.9,321.4 718.3,330.8 723.9,337.3 724.9,340.1 712.7,347.7 703.3,356.1 696.7,358.0 693.9,354.2 678.9,342.0 662.0,331.7 654.5,326.1 653.5,323.2 654.5,318.5 660.1,314.8 669.5,310.1 672.3,307.3 679.8,304.5" fill="#fdae61"/>
<polygon points="711.2,287.2 716.4,285.7 718.3,290.4 716.4,295.1 720.2,299.8 717.9,305.4 716.4,311.0 712.7,304.5 709.3,299.8 710.8,293.2" fill="#e0f3f8"/>
<polygon points="717.9,305.4 723.9,303.5 733.3,304.5 742.7,310.1 748.4,312.9 752.1,306.3 755.9,303.5 767.1,306.3 768.1,313.8 769.0,328.9 770.0,353.3 767.1,355.2 739.0,341.1 734.3,343.0 724.9,340.1 723.9,337.3 718.3,330.8 717.9,321.4 716.4,312.0" fill="#d73027"/>
<polygon points="769.0,309.2 780.3,311.0 787.8,309.2 795.3,311.0 801.9,310.1 803.8,316.7 800.9,321.4 796.2,314.8 794.4,314.8 799.1,325.1 804.7,334.5 809.8,345.8 770.5,345.8 770.0,328.9 769.0,313.8" fill="#f46d43"/>
<polygon points="770.5,345.8 809.8,345.8 812.2,353.3 816.0,360.8 816.0,360.0 813.1,371.3 812.2,376.9 807.5,386.3 805.6,391.0 800.9,391.0 799.1,386.3 795.3,391.9 787.8,396.6 780.3,394.7 774.6,392.9 770.0,398.5 763.4,391.0 761.5,378.8 766.2,371.3 767.1,360.0 767.1,355.2 770.0,353.3" fill="#f46d43"/>
<polygon points="739.0,342.0 767.1,355.5 767.1,360.0 766.2,371.3 761.5,378.8 763.4,391.0 757.7,395.7 748.4,400.4 739.0,404.1 734.3,396.6 737.1,393.8 735.2,386.3 734.8,384.4 732.4,376.9 737.1,370.3 738.0,360.0 739.0,355.2 736.2,343.9" fill="#d73027"/>
<polygon points="703.3,357.0 712.7,348.6 724.9,341.1 734.3,343.5 736.2,344.8 739.0,355.2 738.0,360.0 737.1,370.3 732.4,376.9 731.5,382.5 722.1,380.7 712.7,382.5 704.2,378.8 698.6,380.7 695.8,388.2 692.0,385.4 687.3,379.7 686.4,375.0 697.7,371.6 698.0,360.0 698.6,358.9" fill="#fdae61"/>
<polygon points="662.0,332.6 678.9,343.0 693.9,355.2 696.7,358.5 698.6,359.3 697.7,360.0 697.7,371.3 693.9,373.1 684.5,375.0 675.1,377.8 669.5,381.6 665.7,386.3 664.8,391.9 662.0,392.9 655.4,394.7 653.5,392.9 650.7,386.3 643.2,384.8 642.3,378.8 644.1,373.1 664.8,371.6 663.8,360.0 663.8,353.3 662.0,335.4" fill="#fdae61"/>
<polygon points="643.6,330.4 653.5,329.8 654.5,326.6 662.0,332.3 661.0,335.4 663.8,353.3 663.8,360.0 664.8,371.3 644.1,372.8 642.3,378.8 640.4,374.1 632.9,367.9 628.2,367.5 627.8,360.0 627.2,350.5 637.6,349.2 638.5,342.4 642.8,339.8" fill="#fdae61"/>
<polygon points="624.4,376.0 628.2,368.5 632.9,367.9 640.4,374.1 642.3,378.8 643.2,384.4 635.7,384.0 630.0,382.5 625.4,380.7" fill="#f7f4ba"/>
<polyline points="625.4,378.8 631.9,378.4 636.6,379.5" fill="none"/>
<polygon points="627.2,385.4 634.7,384.4 633.8,388.2 630.0,389.1" fill="#f46d43" stroke="#f46d43" stroke-width="0.5"/>
<polygon points="634.7,385.4 643.2,384.8 650.7,386.3 653.5,392.9 655.4,400.4 650.7,403.2 647.9,398.5 642.3,394.7 636.6,392.9 632.9,389.1" fill="#fdae61"/>
<polygon points="638.5,396.6 642.3,395.1 646.0,399.4 644.1,405.1 640.4,403.2 637.6,399.4" fill="#fae08c" stroke="#fae08c" stroke-width="0.5"/>
<polygon points="646.0,400.4 650.7,403.6 654.5,407.9 656.3,414.5 652.6,413.5 646.0,407.9 644.1,405.1" fill="#f7f4ba" stroke="#f7f4ba" stroke-width="0.5"/>
<polygon points="655.4,394.7 662.0,392.9 672.3,395.7 674.2,400.4 673.2,407.9 672.3,412.6 663.8,413.5 657.3,415.4 655.4,407.9 654.8,400.4" fill="#fae08c"/>
<polygon points="664.8,391.9 665.7,386.3 669.5,381.6 675.1,377.8 684.5,375.0 686.4,379.7 692.0,384.4 690.1,388.2 684.5,390.0 674.2,390.0 672.3,395.7 662.0,392.9" fill="#fdae61"/>
<polygon points="674.2,391.0 684.5,390.6 686.4,398.5 687.3,408.8 682.6,412.6 675.1,414.5 672.3,412.6 673.2,407.9 674.2,400.4" fill="#e0f3f8"/>
<polygon points="684.5,391.0 687.9,391.0 689.4,409.2 686.4,409.6 685.8,398.5" fill="#f46d43" stroke="#f46d43" stroke-width="0.5"/>
<polygon points="687.9,391.0 692.0,386.3 695.8,388.2 694.8,394.7 693.5,408.8 689.8,409.2 688.6,397.6" fill="#fae08c"/>
<polygon points="695.8,388.2 698.6,380.7 704.2,378.8 712.7,382.5 722.1,380.7 731.5,382.5 734.8,385.4 732.4,391.9 727.7,400.4 723.9,407.9 716.4,411.6 710.8,416.3 705.2,415.4 701.4,410.7 693.9,408.8 694.8,394.7" fill="#fae08c"/>
<polygon points="734.3,390.0 737.1,394.7 734.3,396.6 739.0,404.1 736.2,408.8 737.1,416.3 740.8,422.9 740.5,425.7 723.9,424.8 719.2,424.8 718.3,420.1 715.5,415.4 716.4,411.6 723.9,407.9 727.7,400.4 732.4,391.9" fill="#f46d43"/>
<polygon points="739.0,404.7 748.4,400.9 757.7,396.1 763.4,391.5 769.0,398.5 774.6,406.9 779.3,412.6 772.8,414.5 763.4,416.3 754.0,414.5 749.3,418.2 747.4,421.0 740.8,422.9 737.1,416.3 736.2,408.8" fill="#d73027"/>
<polygon points="770.0,399.1 774.6,393.4 780.3,395.3 787.8,397.2 795.3,392.3 799.1,387.2 800.9,391.5 805.6,391.5 803.8,397.6 801.9,402.3 806.6,409.8 808.5,414.5 804.7,418.2 797.2,419.2 791.5,418.2 780.3,413.5 775.6,407.9" fill="#e0e0e0"/>
<polygon points="805.6,419.2 808.8,415.0 814.1,416.9 823.5,420.5 830.0,419.2 830.0,424.8 830.6,438.9 822.5,452.0 816.0,447.3 805.6,440.8 806.6,434.2 808.5,427.6 806.6,423.8" fill="#f7f4ba"/>
<polygon points="791.5,434.2 793.4,428.5 797.2,420.1 805.1,419.2 807.5,424.8 806.6,431.4 803.8,434.2 799.1,434.2 795.3,438.9 789.7,438.9" fill="#fae08c"/>
<polygon points="787.8,440.8 792.5,439.8 791.5,444.5 788.2,445.4" fill="#fdae61" stroke="#fdae61" stroke-width="0.5"/>
<polygon points="788.2,446.4 791.5,446.0 790.6,451.1 788.4,451.1" fill="#f46d43" stroke="#f46d43" stroke-width="0.5"/>
<polygon points="792.5,445.4 796.2,444.9 800.9,445.8 805.6,441.1 816.0,447.7 822.5,452.4 821.6,459.5 823.5,468.0 825.4,474.6 823.0,467.5 825.4,478.8 816.4,480.7 807.0,482.5 803.3,476.9 800.5,473.1 793.9,468.5 790.1,467.5 788.3,460.0 789.7,460.5 790.6,452.0" fill="#f7f4ba"/>
<polygon points="796.2,435.1 803.8,434.2 805.6,440.8 800.9,445.4 796.2,444.5" fill="#fff" stroke="none"/>
<polygon points="749.3,418.6 754.0,414.8 763.4,416.7 772.8,414.8 779.3,413.1 791.5,418.6 793.1,424.8 790.6,433.2 787.8,440.8 786.9,446.4 787.8,452.0 788.7,460.5 788.3,460.0 790.1,467.5 784.5,470.3 785.4,478.8 783.6,481.6 787.3,486.3 786.4,488.2 778.9,480.7 769.5,479.7 762.9,478.8 760.1,463.8 754.5,462.8 753.5,465.6 746.0,466.6 743.2,460.0 746.5,467.0 742.7,459.5 729.6,458.0 729.2,455.8 737.1,454.8 741.8,448.3 742.7,440.8 747.4,433.2 748.4,423.8" fill="#d73027"/>
<polygon points="740.8,423.5 747.4,421.6 748.7,424.8 747.4,433.2 742.7,440.8 741.8,448.3 737.1,454.8 731.5,453.0 725.8,450.1 724.9,445.4 731.5,443.6 735.2,438.9 732.4,435.1 734.3,431.4 731.5,427.6 740.8,426.1" fill="#fdae61"/>
<polygon points="719.2,427.6 723.9,427.2 723.9,425.4 731.5,427.6 734.3,431.4 732.4,435.1 735.2,438.9 731.5,443.6 724.9,445.4 720.2,440.8 716.4,435.1 719.2,431.4" fill="#fdae61"/>
<polygon points="718.7,427.6 723.0,427.6 723.0,429.9 718.7,429.9" fill="#d73027" stroke="#d73027" stroke-width="0.5"/>
<polygon points="729.6,459.2 742.7,459.9 743.2,460.0 746.0,466.6 753.5,465.6 754.5,462.8 760.1,463.8 762.0,478.8 767.6,479.7 767.2,486.3 761.0,487.2 761.0,499.4 764.8,505.1 756.3,506.9 745.1,505.1 725.4,504.1 726.3,497.6 730.0,486.3 732.9,476.9 731.0,467.5 728.2,460.0" fill="#fdae61"/>
<polygon points="729.6,453.9 731.5,453.3 731.1,456.7 729.2,456.2" fill="#fdae61" stroke="#fdae61" stroke-width="0.5"/>
<polygon points="784.5,470.3 793.9,468.5 800.5,473.1 802.3,476.9 800.5,484.4 798.6,491.0 792.0,493.8 785.4,499.4 778.9,506.0 771.4,506.0 764.8,505.1 761.0,499.4 761.0,487.2 767.2,486.3 767.6,479.7 778.9,480.7 786.4,488.2 787.3,486.3 783.6,481.6 785.4,478.8" fill="#fae08c"/>
<polygon points="801.4,475.0 804.2,474.1 805.2,482.5 808.0,491.9 808.9,499.4 806.1,501.3 804.2,494.7 800.5,491.0 801.4,484.4" fill="#f7f4ba"/>
<polygon points="807.0,482.5 816.4,480.7 825.4,478.8 826.2,493.8 822.1,500.4 812.7,506.0 805.2,512.6 804.2,518.2 806.1,525.7 805.2,532.3 797.7,536.1 795.8,539.8 793.9,535.1 793.0,524.8 797.7,520.1 798.6,514.5 799.5,503.2 798.6,498.5 792.0,496.6 791.1,494.7 798.6,491.9 803.3,493.8 805.2,501.3 808.9,500.4 808.5,491.9" fill="#fdae61"/>
<polygon points="785.4,499.8 792.0,496.6 798.6,499.1 799.2,504.1 798.0,514.5 797.3,520.1 793.0,524.8 786.4,523.8 780.8,521.0 777.9,514.5 773.2,507.9 778.9,506.6" fill="#fdae61"/>
<polygon points="757.3,508.8 764.8,507.9 771.4,506.9 777.9,514.8 780.8,521.0 785.4,523.8 778.9,529.5 774.2,534.2 770.4,538.9 764.8,537.0 760.1,542.6 754.5,542.6 753.5,535.1 753.5,523.8 757.3,522.9" fill="#abd9e9"/>
<polygon points="725.4,504.7 745.1,505.6 756.3,507.3 764.8,506.0 771.4,506.0 764.8,507.9 757.3,508.8 756.7,522.9 753.0,523.8 752.6,550.1 749.2,551.6 743.2,549.2 740.4,548.3 735.7,535.1 733.8,523.8 729.1,512.6" fill="#e0f3f8"/>
<polygon points="741.3,549.8 749.2,552.0 753.0,550.5 753.5,542.6 760.1,543.0 764.8,537.4 770.4,539.2 774.6,534.6 779.2,529.9 785.8,524.2 792.6,525.2 793.5,535.1 795.4,539.8 795.8,544.5 792.0,551.1 786.4,557.7 780.8,564.2 774.2,568.9 765.7,570.8 756.3,571.7 749.8,573.6 746.0,568.9 746.0,563.3 743.2,555.8" fill="#abd9e9"/>
<polygon points="776.1,553.0 780.8,549.8 784.5,552.4 782.6,556.7 778.9,558.6 776.1,555.8" fill="#e0f3f8"/>
<polygon points="789.8,539.8 793.0,538.9 793.9,542.6 791.1,544.1" fill="#fdae61" stroke="#fdae61" stroke-width="0.5"/>
<polygon points="856.8,485.4 859.6,490.0 859.6,496.6 855.9,505.1 853.1,514.5 849.3,525.7 845.5,535.1 839.9,536.6 835.6,534.2 834.8,525.7 838.0,516.3 838.6,505.1 842.7,500.4 850.2,496.6 854.0,491.0" fill="#f7f4ba" stroke="#f7f4ba" stroke-width="0.5"/>
<polygon points="835.1,391.0 841.4,393.4 847.6,392.6 855.5,390.3 863.3,387.9 863.6,392.6 860.2,400.4 853.9,409.8 847.6,417.6 841.4,425.5 836.7,431.7 835.1,435.0 833.6,439.5 829.6,438.0 829.6,435.0 830.1,423.9 833.6,416.4 841.4,414.0 847.2,408.6 852.0,403.1 841.4,398.1 835.9,394.2" fill="#e0e0e0"/>
<polygon points="813.2,376.9 817.9,376.2 824.2,376.9 828.9,380.1 832.8,384.0 835.1,385.6 833.6,390.3 835.9,394.2 841.4,398.1 851.5,402.8 846.9,408.2 841.4,413.7 833.6,416.1 827.3,419.2 822.6,420.0 814.8,417.6 809.3,413.7 806.9,408.2 802.3,402.8 805.4,398.9 808.5,392.6 810.1,384.8" fill="#fdae61"/>
<polygon points="812.4,376.2 814.0,367.6 817.9,364.4 821.0,369.1 824.2,374.6 828.9,379.3 833.6,384.0 835.1,385.6 832.8,384.0 828.9,380.4 824.2,377.3 817.9,376.5" fill="#f46d43"/>
<polygon points="831.2,387.9 834.8,386.3 835.1,389.5 832.3,390.7" fill="#f46d43" stroke="#f46d43" stroke-width="0.5"/>
<polyline points="852.0,403.1 855.8,397.6 855.8,390.3" fill="none"/>
<polygon points="1186.5,479.1 1189.3,487.6 1193.1,495.1 1194.0,506.3 1195.9,512.0 1200.6,515.7 1202.4,523.2 1206.2,527.9 1209.0,533.6 1210.9,538.3 1209.0,547.7 1209.0,547.8 1205.3,555.3 1199.6,562.8 1192.1,569.4 1184.6,577.9 1179.0,585.4 1171.5,587.3 1163.9,590.1 1162.1,587.3 1158.3,589.7 1152.7,588.6 1148.0,585.4 1149.9,577.9 1148.0,573.2 1150.4,564.7 1145.2,569.4 1138.6,573.2 1137.7,567.5 1134.8,563.8 1128.3,561.5 1120.8,562.3 1109.5,564.7 1102.0,567.2 1098.2,570.4 1086.0,571.3 1080.4,574.1 1074.7,574.7 1071.0,571.3 1074.7,565.7 1076.6,556.3 1075.7,545.0 1075.7,543.9 1076.6,535.4 1078.5,527.9 1083.2,523.2 1090.7,519.1 1100.1,516.1 1107.6,513.8 1112.3,508.2 1112.3,505.4 1115.1,503.5 1117.0,505.4 1119.8,500.7 1123.6,496.0 1128.3,493.6 1132.0,491.7 1135.8,495.1 1139.5,496.0 1141.4,490.4 1145.2,485.7 1152.7,482.9 1157.4,483.8 1163.9,485.3 1161.1,489.4 1159.2,494.1 1163.9,499.8 1169.6,504.5 1174.3,506.3 1179.0,503.5 1181.8,496.9 1183.7,487.6" fill="#74add1"/>
<polygon points="1154.6,599.8 1164.9,600.4 1160.2,605.5 1153.6,608.8 1152.7,606.0" fill="#74add1" stroke="#74add1" stroke-width="0.5"/>
<polygon points="1212.8,619.2 1216.5,616.4 1225.9,612.2 1235.3,607.9 1242.8,602.3 1245.6,599.5 1248.1,601.3 1243.8,605.1 1237.2,609.8 1227.8,614.9 1220.3,619.7 1215.6,621.1" fill="#4575b4" stroke="#4575b4" stroke-width="0.5"/>
<polygon points="1253.1,600.4 1256.9,596.6 1255.6,593.5 1261.6,589.1 1263.5,584.8 1265.4,585.4 1266.3,588.6 1271.9,587.8 1268.2,591.9 1262.5,594.2 1258.8,598.5" fill="#4575b4" stroke="#4575b4" stroke-width="0.5"/>
<polygon points="1263.5,576.9 1265.0,576.9 1265.0,580.3 1263.5,580.3" fill="#4575b4" stroke="#4575b4" stroke-width="0.5"/>
<polygon points="1256.9,518.0 1261.6,522.9 1260.7,523.2 1256.3,518.7" fill="#e0e0e0" stroke="#e0e0e0" stroke-width="0.5"/>
</g>
</svg>
<div class="t" id="title">The Economist Intelligence Unit’s 2020 Democracy Index</div>
<div class="t" id="sub">167 countries scored on a scale of 0 to 10 based on 60 indicators</div>
<div class="t lg" style="left:40px;top:170px">Full</div>
<div class="t lg" style="left:40px;top:195px">democracies</div>
<div class="t lg" style="left:40px;top:278px">Flawed</div>
<div class="t lg" style="left:40px;top:303px">democracies</div>
<div class="t lg" style="left:40px;top:387px;transform:scaleX(1.005)">Hybrid</div>
<div class="t lg" style="left:40px;top:412px">regimes</div>
<div class="t lg" style="left:40px;top:522px;transform:scaleX(0.99)">Authoritarian</div>
<div class="t lg" style="left:39px;top:547px">regimes</div>
<div class="t" id="src">Source: The Economist Intelligence Unit</div>
</body></html>
